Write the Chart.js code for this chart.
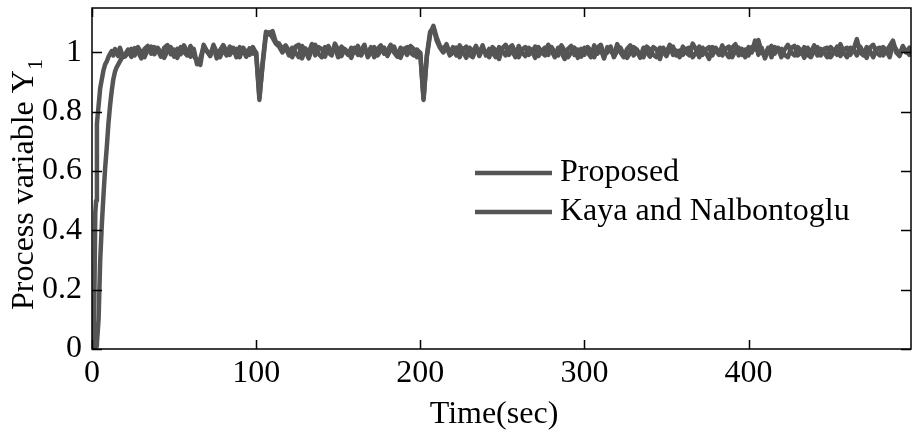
<!DOCTYPE html>
<html>
<head>
<meta charset="utf-8">
<script src="https://cdn.jsdelivr.net/npm/chart.js@4.4.0/dist/chart.umd.min.js"></script>
<style>
  html, body { margin: 0; padding: 0; background: #fff; }
  #wrap { width: 919px; height: 431px; }
</style>
</head>
<body>
<div id="wrap"><canvas id="responseChart" width="919" height="431"></canvas></div>
<script>
// start-up part of both step responses (time in sec)
var riseTime     = [0, 1, 1.5, 2, 2.5, 3, 4, 5, 6, 7, 8, 9, 10, 11, 12, 13, 14, 15, 16, 17, 18, 19];
var proposedRise = [0, 0.03, 0.2, 0.46, 0.5, 0.76, 0.82, 0.88, 0.91, 0.94, 0.96, 0.97, 0.985, 0.995, 1.005, 0.99, 1.012, 1.0, 0.988, 1.016, 1.0, 0.986];
var kayaRise     = [0, 0, 0, 0.005, 0.01, 0.02, 0.1, 0.3, 0.42, 0.52, 0.61, 0.68, 0.76, 0.82, 0.87, 0.91, 0.935, 0.95, 0.96, 0.97, 0.98, 0.985];

// rest of the run, one sample every 2 sec starting at 20 sec
var steadyStart = 20;
var steadyStep = 2;
var proposedSteady = [
  0.992, 1.010, 0.985, 1.015, 1.004, 0.980, 1.012, 1.022, 0.996, 1.018,
  1.008, 0.986, 1.016, 1.025, 0.994, 1.010, 0.982, 1.018, 1.002, 0.990,
  1.022, 0.988, 0.972, 0.958, 1.026, 1.004, 0.990, 1.018, 0.980, 1.008,
  1.025, 1.004, 0.992, 1.016, 0.984, 1.018, 1.008, 0.986, 1.014, 0.996,
  1.000, 0.840, 0.970, 1.070, 1.060, 1.072, 1.035, 1.030, 1.012, 1.024,
  1.006, 0.984, 1.020, 1.026, 0.980, 1.014, 1.000, 1.028, 0.990, 1.018,
  1.012, 0.986, 1.022, 1.000, 1.016, 0.984, 1.020, 1.006, 0.992, 1.016,
  1.000, 1.022, 0.990, 1.010, 0.998, 1.018, 0.984, 1.012, 1.024, 0.996,
  1.006, 1.026, 1.000, 0.986, 1.016, 1.008, 0.992, 1.022, 1.012, 0.984,
  1.000, 0.840, 0.985, 1.060, 1.090, 1.050, 1.022, 1.010, 1.028, 0.998,
  1.018, 0.990, 1.024, 1.006, 0.982, 1.016, 1.002, 1.022, 0.988, 1.012,
  1.000, 0.984, 1.018, 1.008, 0.978, 1.014, 1.026, 0.992, 1.006, 0.984,
  1.022, 1.000, 0.988, 1.016, 1.008, 0.982, 1.018, 1.000, 0.990, 1.026,
  1.006, 0.984, 1.016, 1.000, 0.978, 1.012, 1.022, 0.992, 1.010, 0.986,
  1.016, 1.000, 0.984, 1.024, 0.996, 1.010, 0.980, 1.018, 1.006, 0.990,
  1.028, 1.000, 0.984, 1.012, 1.024, 0.990, 1.006, 0.982, 1.016, 1.000,
  0.986, 1.018, 1.010, 0.978, 1.016, 1.000, 1.026, 0.992, 1.006, 0.984,
  1.020, 1.000, 0.990, 1.030, 1.010, 0.984, 1.016, 1.000, 0.978, 1.018,
  1.006, 0.992, 1.024, 1.000, 0.984, 1.016, 1.028, 0.990, 1.012, 0.984,
  1.018, 1.000, 1.040, 0.992, 1.016, 0.980, 1.008, 1.022, 0.996, 1.016,
  0.984, 1.010, 1.026, 1.000, 0.990, 1.018, 1.006, 0.982, 1.016, 1.000,
  1.024, 0.990, 1.012, 1.000, 0.984, 1.018, 1.006, 0.992, 1.028, 1.000,
  0.984, 1.016, 1.010, 0.990, 1.020, 1.000, 0.982, 1.016, 1.026, 1.000,
  0.990, 1.018, 1.006, 0.984, 1.028, 1.010, 0.992, 1.022, 1.000, 1.016,
  1.006
];
var kayaSteady = [
  0.986, 0.998, 1.012, 0.990, 1.018, 1.000, 0.984, 1.010, 1.020, 0.994,
  1.016, 1.000, 0.982, 1.006, 1.018, 0.986, 1.012, 0.994, 1.024, 1.002,
  0.986, 1.012, 0.960, 0.980, 1.018, 1.006, 0.988, 1.026, 1.000, 0.984,
  1.010, 0.990, 1.020, 1.000, 1.012, 0.984, 1.016, 1.002, 0.992, 1.018,
  0.998, 0.850, 0.960, 1.060, 1.068, 1.050, 1.030, 1.020, 1.000, 1.016,
  0.990, 1.016, 1.000, 0.984, 1.022, 1.006, 0.980, 1.012, 1.026, 0.996,
  0.984, 1.018, 1.000, 0.990, 1.030, 1.008, 0.988, 1.012, 1.000, 0.982,
  1.016, 0.992, 1.008, 1.026, 0.984, 1.000, 1.018, 0.990, 1.006, 1.016,
  0.988, 1.010, 1.020, 0.992, 0.982, 1.012, 1.018, 1.000, 0.990, 1.010,
  0.996, 0.845, 0.990, 1.070, 1.085, 1.040, 1.016, 1.000, 1.018, 0.990,
  1.000, 1.016, 0.984, 1.010, 1.020, 0.992, 0.984, 1.012, 1.000, 1.024,
  0.990, 1.012, 1.000, 0.984, 1.018, 1.006, 0.990, 1.016, 1.024, 1.000,
  0.984, 1.010, 1.018, 0.992, 1.000, 1.020, 0.988, 1.006, 1.016, 0.992,
  1.018, 1.000, 0.990, 1.024, 1.006, 0.984, 1.000, 1.016, 0.982, 1.012,
  0.992, 1.018, 1.006, 0.984, 1.016, 1.026, 0.992, 1.000, 1.020, 0.984,
  1.006, 1.016, 0.992, 0.982, 1.000, 1.018, 1.010, 0.990, 0.984, 1.020,
  1.010, 0.992, 0.984, 1.016, 1.002, 0.988, 1.012, 1.020, 0.990, 1.006,
  0.992, 1.012, 1.016, 0.984, 1.000, 1.020, 0.992, 1.010, 1.018, 0.990,
  1.016, 1.000, 0.990, 1.012, 1.020, 0.984, 1.006, 1.016, 0.992, 1.010,
  0.990, 1.018, 1.010, 1.042, 1.000, 0.990, 1.016, 0.984, 1.018, 1.006,
  1.012, 0.992, 0.984, 1.016, 1.022, 0.990, 1.000, 1.018, 0.992, 0.984,
  1.006, 1.018, 0.990, 1.012, 1.016, 0.984, 1.000, 1.020, 0.988, 1.010,
  1.016, 0.992, 1.010, 1.045, 1.000, 0.990, 1.018, 1.006, 0.984, 1.012,
  1.016, 0.990, 1.006, 1.022, 1.040, 1.000, 0.988, 1.016, 1.006, 0.992,
  1.012
];

var xTicks = [0, 100, 200, 300, 400];
var yTicks = [0, 0.2, 0.4, 0.6, 0.8, 1];
var seriesNames = ['Proposed', 'Kaya and Nalbontoglu'];
var xTitle = 'Time(sec)';
var yTitle = 'Process variable Y';
var yTitleSub = '1';

var LINE_GRAY = '#555555';
var FONT = '"Liberation Serif", "Times New Roman", serif';

function buildPoints(riseVals, steadyVals) {
  var pts = riseTime.map(function (t, i) { return { x: t, y: riseVals[i] }; });
  steadyVals.forEach(function (v, i) {
    pts.push({ x: steadyStart + i * steadyStep, y: v });
  });
  return pts;
}

// box, inward ticks on all four sides, legend and axis titles
var matlabFrame = {
  id: 'matlabFrame',
  afterDraw: function (chart) {
    var ctx = chart.ctx;
    var a = chart.chartArea;
    var xs = chart.scales.x, ys = chart.scales.y;
    ctx.save();
    ctx.strokeStyle = '#000';
    ctx.lineWidth = 1.5;
    ctx.strokeRect(a.left, a.top, a.right - a.left, a.bottom - a.top);

    ctx.beginPath();
    xTicks.forEach(function (v) {
      var px = Math.round(xs.getPixelForValue(v)) + 0.5;
      ctx.moveTo(px, a.bottom); ctx.lineTo(px, a.bottom - 9);
      ctx.moveTo(px, a.top); ctx.lineTo(px, a.top + 9);
    });
    yTicks.forEach(function (v) {
      var py = Math.round(ys.getPixelForValue(v)) + 0.5;
      ctx.moveTo(a.left, py); ctx.lineTo(a.left + 10, py);
      ctx.moveTo(a.right, py); ctx.lineTo(a.right - 10, py);
    });
    ctx.stroke();

    // legend
    ctx.font = '32px ' + FONT;
    ctx.textBaseline = 'middle';
    ctx.textAlign = 'left';
    chart.data.datasets.forEach(function (ds, i) {
      var ly = 173 + i * 39;
      ctx.strokeStyle = ds.borderColor;
      ctx.lineWidth = 4.5;
      ctx.beginPath();
      ctx.moveTo(475, ly); ctx.lineTo(552, ly);
      ctx.stroke();
      ctx.fillStyle = '#000';
      ctx.fillText(ds.label, 560, ly);
    });

    // x title
    ctx.textBaseline = 'alphabetic';
    ctx.textAlign = 'center';
    ctx.fillText(xTitle, 494, 423);

    // y title with subscript
    ctx.translate(33, 310);
    ctx.rotate(-Math.PI / 2);
    ctx.textAlign = 'left';
    ctx.fillText(yTitle, 0, 0);
    var w = ctx.measureText(yTitle).width;
    ctx.font = '22px ' + FONT;
    ctx.fillText(yTitleSub, w, 9);
    ctx.restore();
  }
};

var ctx = document.getElementById('responseChart');
var responseChart = new Chart(ctx, {
  type: 'line',
  data: {
    datasets: [{
      label: seriesNames[0],
      data: buildPoints(proposedRise, proposedSteady),
      borderColor: LINE_GRAY
    }, {
      label: seriesNames[1],
      data: buildPoints(kayaRise, kayaSteady),
      borderColor: LINE_GRAY
    }]
  },
  options: {
    responsive: false,
    animation: false,
    layout: { padding: { top: 8, right: 8, left: 0, bottom: 0 } },
    elements: {
      line: { borderWidth: 4.5, tension: 0, borderJoinStyle: 'round', borderCapStyle: 'round' },
      point: { radius: 0 }
    },
    plugins: {
      legend: { display: false },
      tooltip: { enabled: false }
    },
    scales: {
      x: {
        type: 'linear',
        min: 0,
        max: 499,
        grid: { display: false, drawTicks: false },
        border: { display: false },
        afterBuildTicks: function (s) { s.ticks = xTicks.map(function (v) { return { value: v }; }); },
        afterFit: function (s) {
          s.height = 82;
          s.paddingLeft = 0;
          s.paddingRight = 0;
        },
        ticks: {
          color: '#000',
          padding: 5,
          maxRotation: 0,
          font: { family: FONT, size: 32 },
          callback: function (v) { return String(v); }
        }
      },
      y: {
        min: 0,
        max: 1.15,
        grid: { display: false, drawTicks: false },
        border: { display: false },
        afterBuildTicks: function (s) { s.ticks = yTicks.map(function (v) { return { value: v }; }); },
        afterFit: function (s) {
          s.width = 92;
          s.paddingTop = 0;
          s.paddingBottom = 0;
        },
        ticks: {
          color: '#000',
          padding: 10,
          font: { family: FONT, size: 32 },
          callback: function (v) { return String(v); }
        }
      }
    }
  },
  plugins: [matlabFrame]
});
</script>
</body>
</html>
